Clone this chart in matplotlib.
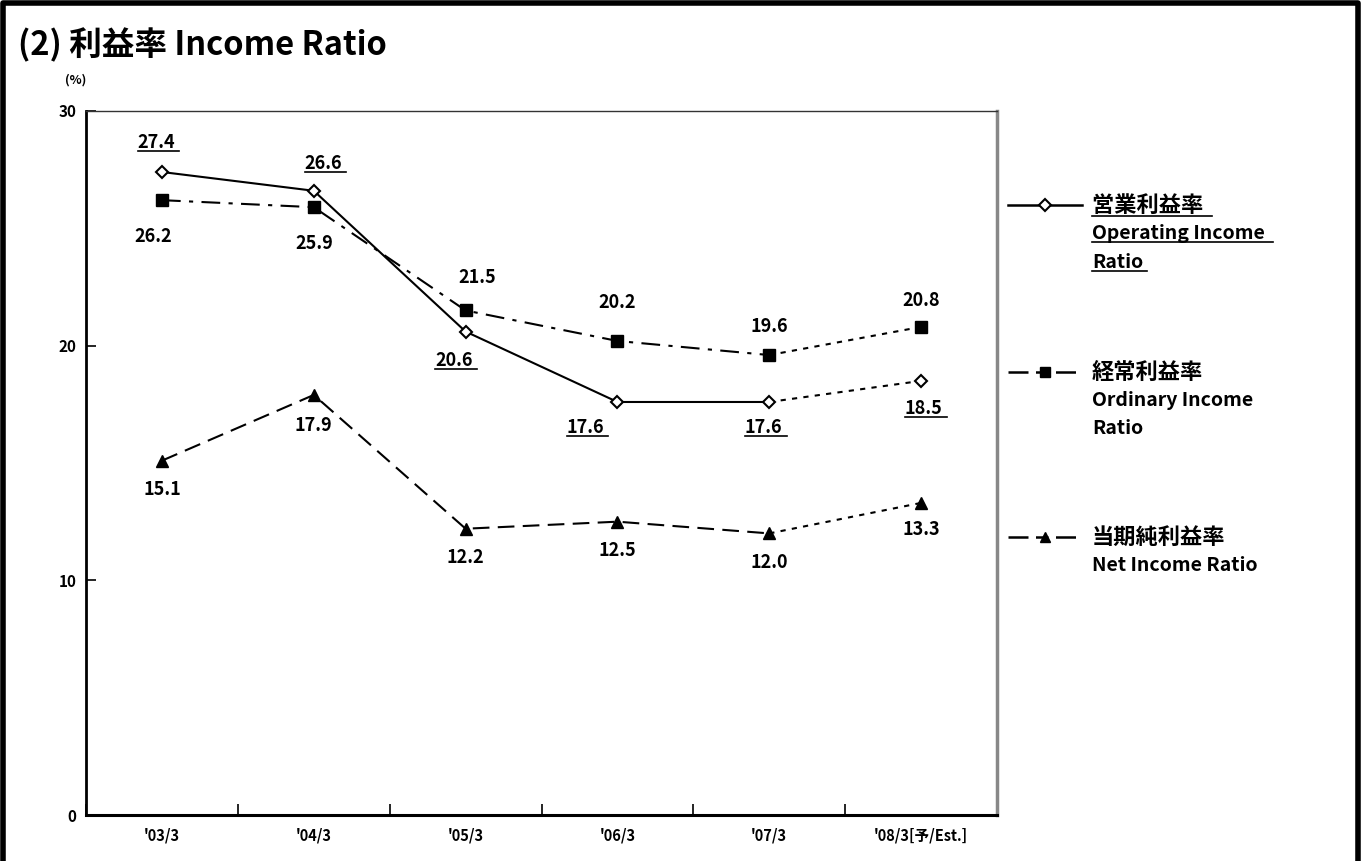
import matplotlib.pyplot as plt
from matplotlib.lines import Line2D

plt.rcParams['font.family'] = ['Noto Sans CJK JP', 'DejaVu Sans']
plt.rcParams['font.weight'] = 'bold'

categories = ["'03/3", "'04/3", "'05/3", "'06/3", "'07/3", "'08/3[予/Est.]"]
operating = [27.4, 26.6, 20.6, 17.6, 17.6, 18.5]
ordinary = [26.2, 25.9, 21.5, 20.2, 19.6, 20.8]
net = [15.1, 17.9, 12.2, 12.5, 12.0, 13.3]
yticks = [0, 10, 20, 30]

# label offsets (points) for each series
op_off = [(-4, 21), (7, 19.5), (-8.5, -21), (-23, -18.5), (-4, -18.5), (2, -20)]
ord_off = [(-6.5, -26), (0, -26), (8.5, 24), (0, 28), (0, 20.5), (0, 19)]
net_off = [(0, -21), (0, -22), (0, -21), (0, -21), (0, -21), (0, -19)]

fig = plt.figure(figsize=(13.61, 8.61), dpi=100)
ax = fig.add_axes([0.0632, 0.0534, 0.6694, 0.8177])

x = list(range(len(categories)))
dotted = (0, (2.5, 3))

# solid/dashed part for actual years, dotted for the estimate
ax.plot(x[:5], operating[:5], color='black', lw=1.5, ls='-')
ax.plot(x[4:], operating[4:], color='black', lw=1.5, ls=dotted)
ax.plot(x, operating, ls='none', marker='D', ms=6, mfc='white', mec='black', mew=1.5, zorder=5)

ax.plot(x[:5], ordinary[:5], color='black', lw=1.5, ls=(0, (9, 4, 2, 4)))
ax.plot(x[4:], ordinary[4:], color='black', lw=1.5, ls=dotted)
ax.plot(x, ordinary, ls='none', marker='s', ms=8, color='black', zorder=5)

ax.plot(x[:5], net[:5], color='black', lw=1.5, ls=(0, (8, 4)))
ax.plot(x[4:], net[4:], color='black', lw=1.5, ls=dotted)
ax.plot(x, net, ls='none', marker='^', ms=8, color='black', zorder=5)

underlined = []
for i in x:
    t = ax.annotate(f'{operating[i]:.1f}', (i, operating[i]), xytext=op_off[i],
                    textcoords='offset points', ha='center', va='center', fontsize=13, fontweight='bold')
    underlined.append(t)
    ax.annotate(f'{ordinary[i]:.1f}', (i, ordinary[i]), xytext=ord_off[i],
                textcoords='offset points', ha='center', va='center', fontsize=13, fontweight='bold')
    ax.annotate(f'{net[i]:.1f}', (i, net[i]), xytext=net_off[i],
                textcoords='offset points', ha='center', va='center', fontsize=13, fontweight='bold')

ax.set_xlim(-0.5, 5.5)
ax.set_ylim(0, 30)
ax.set_yticks(yticks)
ax.set_xticks(x)
ax.set_xticklabels(categories, fontsize=10.5, fontweight='bold')
ax.set_xticks([i + 0.5 for i in range(-1, 6)], minor=True)
ax.tick_params(axis='x', which='major', length=0, pad=9)
ax.tick_params(axis='x', which='minor', direction='in', length=8, width=1.2)
ax.tick_params(axis='y', direction='in', length=7, width=1.2, labelsize=11, pad=7)
for lab in ax.get_yticklabels():
    lab.set_fontweight('bold')

ax.spines['left'].set_linewidth(2)
ax.spines['bottom'].set_linewidth(2.2)
ax.spines['top'].set_linewidth(1)
ax.spines['top'].set_color('#333333')
ax.spines['right'].set_linewidth(2.5)
ax.spines['right'].set_color('#888888')

fig.text(0.013, 0.948, '(2) 利益率 Income Ratio', fontsize=23.5, fontweight='bold',
         ha='left', va='center')
fig.text(0.048, 0.907, '(%)', fontsize=9, fontweight='bold', ha='left', va='center')

# legend drawn by hand on the right side
W, H = 1361, 861
def fx(p):
    return p / W
def fy(p):
    return 1 - p / H

leg_dash = (0, (8, 3, 5, 3, 8, 30))
legend = [
    ('-', dict(marker='D', ms=6, mfc='white', mec='black', mew=1.5),
     ['営業利益率 ', 'Operating Income ', 'Ratio'], True, 205),
    (leg_dash, dict(marker='s', ms=7, color='black'),
     ['経常利益率', 'Ordinary Income', 'Ratio'], False, 372),
    (leg_dash, dict(marker='^', ms=7, color='black'),
     ['当期純利益率', 'Net Income Ratio'], False, 537),
]
for ls, mk, lines, ul, yy in legend:
    fig.add_artist(Line2D([fx(1008), fx(1082)], [fy(yy), fy(yy)], color='black', lw=1.8, ls=ls,
                          transform=fig.transFigure))
    fig.add_artist(Line2D([fx(1045)], [fy(yy)], ls='none', transform=fig.transFigure, **mk))
    for k, s in enumerate(lines):
        t = fig.text(fx(1092), fy(yy + 28.5 * k), s, fontsize=16 if k == 0 else 14,
                     fontweight='bold', ha='left', va='center')
        if ul:
            underlined.append(t)

# frame around the whole figure (no bottom edge)
fig.add_artist(Line2D([fx(3), fx(3), fx(1358), fx(1358)], [0, fy(3), fy(3), 0],
                      color='black', lw=4, transform=fig.transFigure))

fig.canvas.draw()
r = fig.canvas.get_renderer()
inv = fig.transFigure.inverted()
for t in underlined:
    bb = t.get_window_extent(r)
    (x0, y0), (x1, _) = inv.transform([(bb.x0, bb.y0 + 1), (bb.x1 + 4, bb.y0 + 1)])
    fig.add_artist(Line2D([x0, x1], [y0, y0], color='black', lw=1.2, transform=fig.transFigure))

fig.savefig('out.png', dpi=100)
